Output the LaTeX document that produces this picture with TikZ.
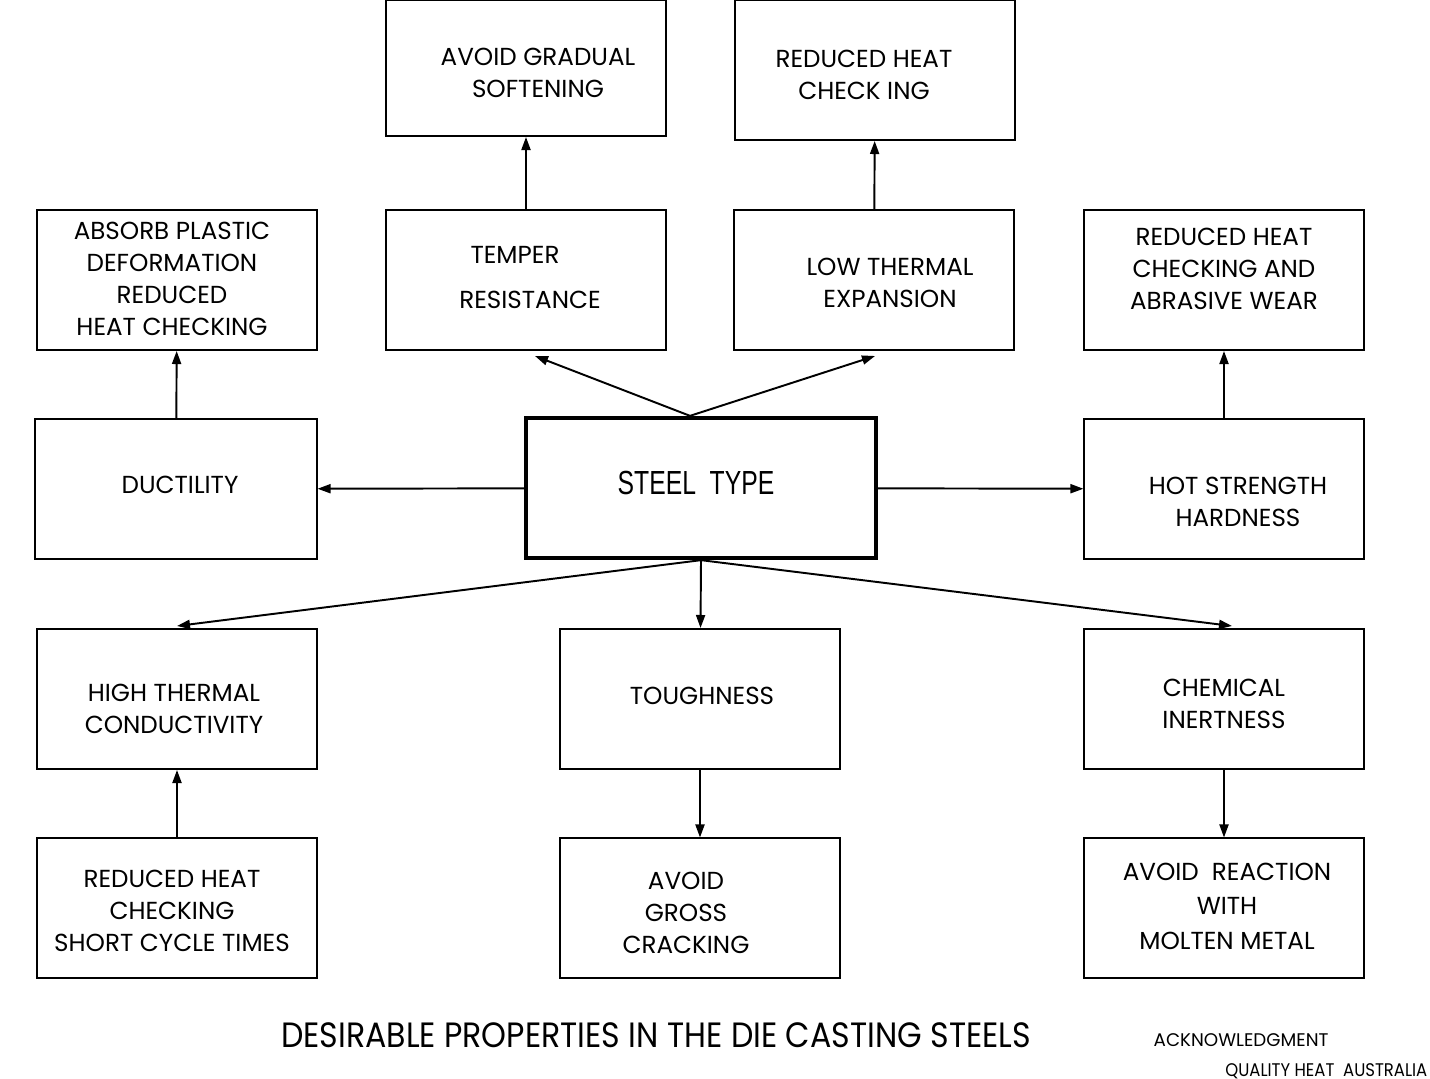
\documentclass[tikz,border=0pt]{standalone}
\usepackage{fontspec}
\setmainfont{Poppins}
\newfontfamily\steelfont[FakeStretch=0.74]{Liberation Sans}
\newfontfamily\titlefont[FakeStretch=0.9]{Poppins}
\usetikzlibrary{arrows.meta, calc}

\begin{document}
\begin{tikzpicture}[x=0.01cm, y=-0.01cm,
  every node/.style={font=\fontsize{7}{9.1}\selectfont, align=center, inner sep=0pt},
  propbox/.style={draw, line width=0.55pt, minimum width=2.79cm, minimum height=1.4cm},
  conn/.style={line width=0.55pt, -{Triangle[length=1.3mm, width=0.9mm]}}]
  \useasboundingbox (0,0) rectangle (1430,1079);

  % Central box
  \node[propbox, line width=1.2pt, minimum width=3.5cm] (steel) at (701,488) {};
  \node[font=\steelfont\fontsize{9.5}{12}\selectfont] (steeltxt) at (696,483) {STEEL\ \ TYPE};

  % Top row
  \node[propbox, minimum height=1.36cm] (soft) at (526,68) {};
  \node (softtxt) at (538,73) {AVOID GRADUAL\\SOFTENING};
  \node[propbox] (check) at (875,70) {};
  \node (checktxt) at (864,75) {REDUCED HEAT\\CHECK ING};

  % Second row
  \node[propbox] (absorb) at (177,280) {};
  \node (absorbtxt) at (172,279) {ABSORB PLASTIC\\DEFORMATION\\REDUCED\\HEAT CHECKING};
  \node[propbox] (temper) at (526,280) {};
  \node (tempertxt) at (515,255) {TEMPER};
  \node (resisttxt) at (530,300) {RESISTANCE};
  \node[propbox, minimum width=2.8cm] (lowexp) at (874,280) {};
  \node (lowexptxt) at (890,283) {LOW THERMAL\\EXPANSION};
  \node[propbox] (abrasive) at (1224,280) {};
  \node (abrasivetxt) at (1224,269) {REDUCED HEAT\\CHECKING AND\\ABRASIVE WEAR};

  % Middle row
  \node[propbox, minimum width=2.81cm] (duct) at (176,489) {};
  \node (ducttxt) at (180,485) {DUCTILITY};
  \node[propbox] (hot) at (1224,489) {};
  \node (hottxt) at (1238,502) {HOT STRENGTH\\HARDNESS};

  % Lower rows
  \node[propbox] (high) at (177,699) {};
  \node (hightxt) at (174,709) {HIGH THERMAL\\CONDUCTIVITY};
  \node[propbox] (tough) at (700,699) {};
  \node (toughtxt) at (702,696) {TOUGHNESS};
  \node[propbox] (chem) at (1224,699) {};
  \node (chemtxt) at (1224,704) {CHEMICAL\\INERTNESS};
  \node[propbox, minimum height=1.39cm] (short) at (177,908) {};
  \node (shorttxt) at (172,911) {REDUCED HEAT\\CHECKING\\SHORT CYCLE TIMES};
  \node[propbox, minimum height=1.39cm] (gross) at (700,908) {};
  \node (grosstxt) at (686,913) {AVOID\\GROSS\\CRACKING};
  \node[propbox, minimum height=1.39cm] (molten) at (1224,908) {};
  \node[font=\fontsize{7}{9.8}\selectfont] (moltentxt) at (1227,906) {AVOID\ \ REACTION\\WITH\\MOLTEN METAL};

  % Connectors
  \draw[conn] (temper) -- (soft);
  \draw[conn] (lowexp) -- (check);
  \draw[conn] (duct) -- (absorb);
  \draw[conn] (hot) -- (abrasive);
  \draw[conn] ($(steel.north)+(-11,0)$) -- ($(temper.south)+(9,5)$);
  \draw[conn] ($(steel.north)+(-11,0)$) -- ($(lowexp.south)+(1,5)$);
  \draw[conn] (steel) -- (duct);
  \draw[conn] (steel) -- (hot);
  \draw[conn] (steel.south) -- ($(high.north)+(0,-2)$);
  \draw[conn] (steel.south) -- (tough);
  \draw[conn] (steel.south) -- ($(chem.north)+(8,-2)$);
  \draw[conn] (short) -- (high);
  \draw[conn] (tough) -- (gross);
  \draw[conn] (chem) -- (molten);

  % Caption
  \node[font=\titlefont\fontsize{10}{12}\selectfont] (title) at (656,1035) {DESIRABLE PROPERTIES IN THE DIE CASTING STEELS};
  \node[anchor=west, font=\fontsize{5.2}{7}\selectfont] (ack) at (1153,1040) {ACKNOWLEDGMENT};
  \node[anchor=east, font=\titlefont\fontsize{5.2}{7}\selectfont] (qha) at (1428,1071) {QUALITY HEAT\ \ AUSTRALIA};
\end{tikzpicture}
\end{document}
